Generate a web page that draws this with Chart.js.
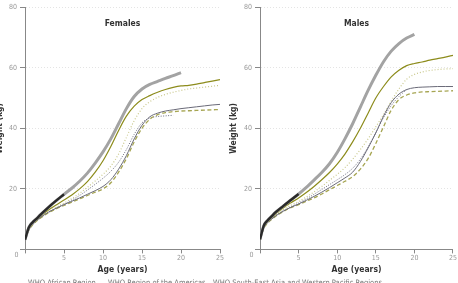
<!DOCTYPE html>
<html>
<head>
<meta charset="utf-8">
<script src="https://cdn.jsdelivr.net/npm/chart.js@4/dist/chart.umd.min.js"></script>
<style>
	html, body { margin: 0; padding: 0; background: #fff; }
	body { width: 458px; height: 283px; position: relative; overflow: hidden; font-family: 'Liberation Sans Narrow', 'DejaVu Sans Condensed', sans-serif; }
	#wrapF { position: absolute; left: -6px; top: 0; width: 235px; height: 283px; }
	#wrapM { position: absolute; left: 229px; top: 0; width: 229px; height: 283px; }
	.legend { position: absolute; top: 278px; left: 0; width: 458px; height: 12px; font-size: 7.5px; color: #777; white-space: nowrap; }
	.legend .item { position: absolute; top: 0; }
	.legend svg { position: absolute; top: 4px; }
</style>
</head>
<body>
<div id="wrapF"><canvas id="females"></canvas></div>
<div id="wrapM"><canvas id="males"></canvas></div>
<div class="legend" id="legend"></div>

<script>
// ages (years) shared by every curve
const AGES = [0, 0.5, 1, 1.5, 2, 3, 4, 5, 6, 7, 8, 9, 10, 11, 12, 13, 14, 15, 16, 17, 18, 19, 20, 21, 22, 23, 24, 25];
const Y_TICKS = [0, 20, 40, 60, 80];
const X_TICKS = [0, 5, 10, 15, 20, 25];

// ---- Females ----
const fStandard = [3.2, 7.3, 9.0, 10.2, 11.5, 13.9, 16.1, 18.2, null, null, null, null, null, null, null, null, null, null, null, null, null, null, null, null, null, null, null, null];
const fReference = [3.2, 7.3, 9.0, 10.2, 11.5, 13.9, 16.1, 18.2, 20.2, 22.5, 25.2, 28.5, 32.2, 36.5, 41.5, 46.5, 50.5, 53.0, 54.5, 55.5, 56.5, 57.4, 58.4, null, null, null, null, null];
const fAmericas = [3.3, 6.8, 8.7, 9.9, 11.0, 13.0, 14.7, 16.3, 18.0, 20.0, 22.4, 25.5, 29.3, 34.0, 39.3, 44.0, 47.3, 49.5, 50.8, 51.9, 52.8, 53.5, 54.0, 54.2, 54.6, 55.1, 55.6, 56.1];
const fSeaWpr = [3.2, 6.5, 8.3, 9.5, 10.6, 12.4, 13.9, 15.3, 16.8, 18.5, 20.5, 22.6, 24.8, 27.5, 31.5, 37.0, 42.5, 46.5, 48.8, 50.2, 51.2, 51.9, 52.5, 53.0, 53.3, 53.6, 53.9, 54.2];
const fDotted = [3.2, 6.3, 8.0, 9.3, 10.4, 12.2, 13.6, 14.9, 16.3, 17.8, 19.6, 21.5, 23.5, 25.8, 28.8, 33.0, 38.0, 41.8, 43.4, 43.9, 44.1, 44.3, null, null, null, null, null, null];
const fAfrican = [3.3, 6.6, 8.4, 9.6, 10.6, 12.3, 13.6, 14.8, 15.9, 17.0, 18.2, 19.4, 20.8, 23.0, 26.5, 31.0, 36.5, 41.0, 43.8, 45.0, 45.7, 46.1, 46.5, 46.8, 47.1, 47.4, 47.7, 47.9];
const fDashed = [3.2, 6.4, 8.2, 9.4, 10.4, 12.1, 13.4, 14.5, 15.6, 16.7, 17.8, 18.9, 20.0, 22.0, 25.5, 30.0, 35.5, 40.0, 43.0, 44.5, 45.2, 45.5, 45.7, 45.8, 45.9, 46.0, 46.1, 46.2];

// ---- Males ----
const mStandard = [3.3, 7.9, 9.6, 10.9, 12.2, 14.3, 16.3, 18.3, null, null, null, null, null, null, null, null, null, null, null, null, null, null, null, null, null, null, null, null];
const mReference = [3.3, 7.9, 9.6, 10.9, 12.2, 14.3, 16.3, 18.3, 20.5, 22.9, 25.4, 28.3, 32.0, 36.5, 41.5, 47.0, 52.5, 57.5, 62.0, 65.5, 68.0, 69.8, 71.0, null, null, null, null, null];
const mAmericas = [3.3, 7.6, 9.3, 10.5, 11.7, 13.7, 15.4, 17.0, 18.8, 20.8, 23.0, 25.4, 28.2, 31.5, 35.5, 40.0, 45.0, 50.0, 53.8, 57.0, 59.2, 60.7, 61.4, 61.9, 62.5, 63.0, 63.5, 64.1];
const mSeaWpr = [3.3, 7.3, 9.0, 10.2, 11.3, 13.1, 14.6, 15.8, 17.3, 19.0, 20.8, 22.8, 24.8, 27.0, 29.8, 33.0, 36.5, 40.5, 44.5, 49.0, 53.0, 56.2, 57.8, 58.6, 59.1, 59.4, 59.6, 59.7];
const mDotted = [3.3, 7.2, 8.9, 10.1, 11.1, 12.8, 14.1, 15.3, 16.7, 18.2, 19.8, 21.4, 23.0, 24.7, 26.8, 29.8, 33.8, 38.5, 43.5, 47.5, 50.5, 52.8, null, null, null, null, null, null];
const mAfrican = [3.3, 7.2, 8.9, 10.0, 11.0, 12.6, 13.9, 15.0, 16.2, 17.5, 18.9, 20.4, 22.0, 23.6, 25.5, 29.0, 33.5, 38.5, 44.0, 48.5, 51.3, 52.8, 53.4, 53.6, 53.7, 53.8, 53.8, 53.8];
const mDashed = [3.3, 7.0, 8.7, 9.9, 10.9, 12.5, 13.8, 14.8, 15.9, 17.0, 18.3, 19.7, 21.1, 22.5, 24.0, 26.5, 30.0, 35.0, 40.5, 46.0, 49.5, 51.0, 51.7, 52.0, 52.1, 52.2, 52.3, 52.4];

const LEGEND_LABELS = ['WHO African Region', 'WHO Region of the Americas', 'WHO South-East Asia and Western Pacific Regions'];

const FONT = "'Liberation Sans Narrow', 'DejaVu Sans Condensed', sans-serif";

const STYLES = {
	standard: { color: '#2a2a2a', width: 2.4, dash: [] },
	reference: { color: '#a3a3a3', width: 3, dash: [] },
	americas: { color: '#8d8c1c', width: 1.2, dash: [] },
	seaWpr: { color: '#c9c88c', width: 1.2, dash: [1, 2] },
	dotted: { color: '#6e6e80', width: 1, dash: [1, 1.5] },
	african: { color: '#6a6a78', width: 1, dash: [] },
	dashed: { color: '#a6a552', width: 1.3, dash: [4, 2.5] }
};

function makeSet(values, style) {
	return {
		data: AGES.map((a, i) => ({ x: a, y: values[i] })),
		borderColor: style.color,
		borderWidth: style.width,
		borderDash: style.dash,
		pointRadius: 0,
		fill: false,
		spanGaps: false,
		cubicInterpolationMode: 'monotone'
	};
}

// panel title and the shared "0" at the origin
const panelText = {
	id: 'panelText',
	afterDraw(chart, args, opts) {
		const { ctx, chartArea } = chart;
		ctx.save();
		ctx.fillStyle = '#333';
		ctx.font = `bold 8.5px ${FONT}`;
		ctx.textAlign = 'center';
		ctx.textBaseline = 'middle';
		ctx.fillText(opts.title, (chartArea.left + chartArea.right) / 2, 24);
		ctx.fillStyle = '#999';
		ctx.font = `7px ${FONT}`;
		ctx.fillText('0', chartArea.left - 8.5, chartArea.bottom + 6);
		ctx.restore();
	}
};

function buildChart(id, title, series, yAxisWidth, titlePad, padRight) {
	return new Chart(document.getElementById(id), {
		type: 'line',
		data: {
			datasets: [
				makeSet(series[0], STYLES.standard),
				makeSet(series[1], STYLES.reference),
				makeSet(series[2], STYLES.americas),
				makeSet(series[3], STYLES.african),
				makeSet(series[4], STYLES.dashed),
				makeSet(series[5], STYLES.dotted),
				makeSet(series[6], STYLES.seaWpr)
			]
		},
		options: {
			responsive: true,
			maintainAspectRatio: false,
			animation: false,
			layout: { padding: { top: 7, right: padRight, bottom: 8, left: 0 } },
			plugins: {
				legend: { display: false },
				tooltip: { enabled: false },
				panelText: { title: title }
			},
			scales: {
				x: {
					type: 'linear',
					min: 0,
					max: 25,
					afterBuildTicks: (axis) => { axis.ticks = X_TICKS.map(v => ({ value: v })); },
					ticks: {
						color: '#999',
						font: { family: FONT, size: 7 },
						padding: 1,
						maxRotation: 0,
						callback: (v) => (v === 0 ? '' : v)
					},
					grid: { drawOnChartArea: false, tickLength: 4, color: '#888' },
					border: { color: '#888', width: 1 },
					title: {
						display: true,
						text: 'Age (years)',
						color: '#333',
						font: { family: FONT, size: 8.5, weight: 'bold' },
						padding: { top: 1, bottom: 0 }
					}
				},
				y: {
					min: 0,
					max: 80,
					afterBuildTicks: (axis) => { axis.ticks = Y_TICKS.map(v => ({ value: v })); },
					afterFit: (axis) => { axis.width = yAxisWidth; },
					ticks: {
						color: '#999',
						font: { family: FONT, size: 7 },
						padding: 3,
						callback: (v) => (v === 0 ? '' : v)
					},
					grid: { color: '#e4e4e4', tickLength: 5, tickColor: '#888', lineWidth: 1 },
					border: { color: '#888', width: 1, dash: [1, 2] },
					title: {
						display: true,
						text: 'Weight (kg)',
						color: '#333',
						font: { family: FONT, size: 8.5, weight: 'bold' },
						padding: { top: titlePad, bottom: 0 }
					}
				}
			}
		},
		plugins: [panelText]
	});
}

buildChart('females', 'Females', [fStandard, fReference, fAmericas, fAfrican, fDashed, fDotted, fSeaWpr], 31, 1, 9);
buildChart('males', 'Males', [mStandard, mReference, mAmericas, mAfrican, mDashed, mDotted, mSeaWpr], 31, 0, 3);

// legend row (only its top shows inside the frame)
const legendEl = document.getElementById('legend');
const legendStyles = [STYLES.african, STYLES.americas, STYLES.seaWpr];
const legendX = [28, 108, 213];
LEGEND_LABELS.forEach((label, i) => {
	const st = legendStyles[i];
	const item = document.createElement('div');
	item.className = 'item';
	item.style.left = (legendX[i] - 14) + 'px';
	item.innerHTML = `<svg width="11" height="4" style="left:0"><line x1="0" y1="2" x2="11" y2="2" stroke="${st.color}" stroke-width="${st.width}" stroke-dasharray="${st.dash.join(' ')}"/></svg><span style="position:absolute;left:14px;top:0">${label}</span>`;
	legendEl.appendChild(item);
});
</script>
</body>
</html>
